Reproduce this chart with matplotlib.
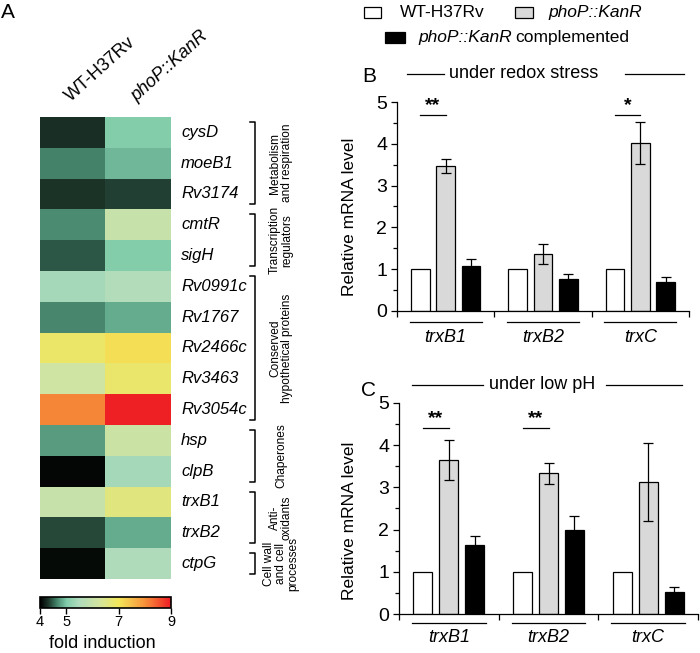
import numpy as np
import matplotlib
matplotlib.use("Agg")
import matplotlib.pyplot as plt
from matplotlib.colors import LinearSegmentedColormap, Normalize
from matplotlib.patches import Rectangle
from matplotlib.ticker import MultipleLocator

plt.rcParams['font.family'] = ['Liberation Sans', 'DejaVu Sans']

# ---- data: heatmap (fold induction) ----
genes = ['cysD', 'moeB1', 'Rv3174', 'cmtR', 'sigH', 'Rv0991c', 'Rv1767',
         'Rv2466c', 'Rv3463', 'Rv3054c', 'hsp', 'clpB', 'trxB1', 'trxB2', 'ctpG']
wt_fold = [4.28, 4.65, 4.30, 4.70, 4.45, 5.40, 4.68, 6.85, 6.20, 8.10,
           4.78, 4.04, 6.00, 4.40, 4.07]
phop_fold = [5.05, 4.90, 4.36, 6.00, 5.05, 5.55, 4.85, 7.10, 6.80, 8.95,
             6.10, 5.40, 6.60, 4.85, 5.50]
strains_hm = ['WT-H37Rv', 'phoP::KanR']
groups = [('Metabolism\nand respiration', 0, 2),
          ('Transcription\nregulators', 3, 4),
          ('Conserved\nhypothetical proteins', 5, 9),
          ('Chaperones', 10, 11),
          ('Anti-\noxidants', 12, 13),
          ('Cell wall\nand cell\nprocesses', 14, 14)]
cbar_ticks = [4, 5, 7, 9]

# ---- data: qRT-PCR bars ----
bar_genes = ['trxB1', 'trxB2', 'trxC']
redox_wt = [1.0, 1.0, 1.0]
redox_phop = [3.48, 1.36, 4.02]
redox_phop_err = [0.17, 0.24, 0.50]
redox_comp = [1.07, 0.75, 0.70]
redox_comp_err = [0.16, 0.13, 0.12]
redox_sig = [(0, '**'), (2, '*')]

lowph_wt = [1.0, 1.0, 1.0]
lowph_phop = [3.65, 3.33, 3.13]
lowph_phop_err = [0.47, 0.25, 0.92]
lowph_comp = [1.64, 2.00, 0.53]
lowph_comp_err = [0.20, 0.32, 0.11]
lowph_sig = [(0, '**'), (1, '**')]

W, H = 700, 653
fig = plt.figure(figsize=(7, 6.53), dpi=100)


def fx(x):
    return x / W


def fy(y):
    return 1 - y / H


def rect(x0, y0, x1, y1):
    return [fx(x0), fy(y1), fx(x1 - x0), (y1 - y0) / H]


# ================= Panel A =================
cmap = LinearSegmentedColormap.from_list('fold', [
    (0.0, '#000000'), (0.06, '#1c3328'), (0.12, '#3d7a62'),
    (0.2, '#80ccaa'), (0.3, '#b0dcbc'), (0.45, '#d2e4a0'),
    (0.6, '#f3e75a'), (0.8, '#f7923a'), (1.0, '#ee1c24')])
norm = Normalize(4, 9)

axh = fig.add_axes(rect(40, 117, 171, 579))
vals = np.column_stack([wt_fold, phop_fold])
im = axh.imshow(vals, cmap=cmap, norm=norm, aspect='auto')
axh.set_axis_off()


def hx(px):
    return -0.5 + (px - 40) / 65.5


for i, g in enumerate(genes):
    axh.text(hx(181), i, g, style='italic', fontsize=12, ha='left', va='center')

for j, s in enumerate(strains_hm):
    axh.text(j - 0.03, -0.98, s, rotation=42, rotation_mode='anchor',
             ha='left', va='baseline', fontsize=13,
             style='italic' if j == 1 else 'normal')

for label, r0, r1 in groups:
    top = r0 - 0.5 + 0.16
    bot = r1 + 0.5 - 0.16
    axh.plot([hx(250), hx(255), hx(255), hx(250)], [top, top, bot, bot],
             color='black', lw=1.1, clip_on=False)
    axh.text(hx(281), (r0 + r1) / 2, label, rotation=90, ha='center',
             va='center', fontsize=8.6, linespacing=1.0, multialignment='center')

axh.set_xlim(-0.5, 1.5)
axh.set_ylim(len(genes) - 0.5, -0.5)

cax = fig.add_axes(rect(40, 597, 171, 608))
cb = fig.colorbar(im, cax=cax, orientation='horizontal')
cb.set_ticks(cbar_ticks)
cb.ax.tick_params(labelsize=10.5, length=4, width=1, pad=1)
cb.outline.set_linewidth(1.2)
fig.text(fx(102), fy(644), 'fold induction', fontsize=13, ha='center', va='center')

fig.text(fx(8), fy(13), 'A', fontsize=15, ha='center', va='center')


# ================= Panels B / C =================
def bar_panel(ax, wt, phop, phop_err, comp, comp_err, sig, sig_y,
              title, title_x, title_lines, y_title, under_y, label_y):
    x = np.arange(len(bar_genes)) + 0.5
    off, bw = 0.26, 0.19
    ax.bar(x - off, wt, bw, color='white', edgecolor='black', lw=0.9)
    ax.bar(x, phop, bw, color='#d9d9d9', edgecolor='black', lw=0.9,
           yerr=phop_err, error_kw=dict(ecolor='black', elinewidth=0.9,
                                        capsize=3.5, capthick=0.9))
    ax.bar(x + off, comp, bw, color='black', edgecolor='black', lw=0.9,
           yerr=comp_err, error_kw=dict(ecolor='black', elinewidth=0.9,
                                        capsize=3.5, capthick=0.9))
    ax.set_xlim(0, 3)
    ax.set_ylim(0, 5)
    for sp in ['top', 'right']:
        ax.spines[sp].set_visible(False)
    for sp in ['left', 'bottom']:
        ax.spines[sp].set_linewidth(0.9)
    ax.set_xticks([0, 1, 2, 3])
    ax.set_xticklabels([])
    ax.tick_params(axis='x', direction='out', length=4, width=0.9)
    ax.yaxis.set_major_locator(MultipleLocator(1))
    ax.yaxis.set_minor_locator(MultipleLocator(0.5))
    ax.tick_params(axis='y', which='major', direction='out', length=4,
                   width=0.9, labelsize=14, pad=3)
    ax.tick_params(axis='y', which='minor', direction='out', length=3, width=0.9)
    ax.set_ylabel('Relative mRNA level', fontsize=12.5)

    for i, g in enumerate(bar_genes):
        ax.plot([i + 0.13, i + 0.87], [under_y, under_y], color='black',
                lw=0.9, clip_on=False)
        ax.text(i + 0.5, label_y, g, style='italic', fontsize=13,
                ha='center', va='center')

    for i, s in sig:
        ax.plot([x[i] - off, x[i]], [sig_y, sig_y], color='black', lw=0.9)
        ax.text(x[i] - off / 2, sig_y + 0.02, s, fontsize=14, ha='center',
                va='bottom', fontweight='bold')

    ax.text(title_x, y_title, title, fontsize=13, ha='center', va='center')
    for a, b in title_lines:
        ax.plot([a, b], [y_title, y_title], color='black', lw=0.9, clip_on=False)


axb = fig.add_axes(rect(397, 102.3, 689, 310.7))
bar_panel(axb, redox_wt, redox_phop, redox_phop_err, redox_comp, redox_comp_err,
          redox_sig, 4.69, 'under redox stress', 1.30,
          [(0.10, 0.48), (2.34, 2.95)], 5.68, -0.27, -0.64)
axb.yaxis.set_label_coords(-40 / 292, 0.45)

axc = fig.add_axes(rect(399, 402.7, 698, 614.3))
bar_panel(axc, lowph_wt, lowph_phop, lowph_phop_err, lowph_comp, lowph_comp_err,
          lowph_sig, 4.41, 'under low pH', 1.44,
          [(0.13, 0.84), (2.08, 2.84)], 5.42, -0.21, -0.56)
axc.yaxis.set_label_coords(-42 / 299, 0.44)

fig.text(fx(369), fy(76), 'B', fontsize=15, ha='center', va='center')
fig.text(fx(369), fy(391), 'C', fontsize=15, ha='center', va='center')

# ---- legend ----
legend_boxes = [((364, 7, 381, 18), 'white'),
                ((515, 7, 533, 18), '#d9d9d9'),
                ((385, 32, 405, 43), 'black')]
for (x0, y0, x1, y1), c in legend_boxes:
    fig.add_artist(Rectangle((fx(x0), fy(y1)), fx(x1 - x0), (y1 - y0) / H,
                             transform=fig.transFigure, facecolor=c,
                             edgecolor='black', lw=0.9))
fig.text(fx(400), fy(12.5), 'WT-H37Rv', fontsize=12.5, va='center')
fig.text(fx(548), fy(12.5), 'phoP::KanR', fontsize=12.5, va='center', style='italic')
t_it = fig.text(fx(418), fy(37.5), 'phoP::KanR', fontsize=12.5, va='center',
                style='italic')
fig.canvas.draw()
bb = t_it.get_window_extent()
fig.text(fx(bb.x1 + 4), fy(37.5), 'complemented', fontsize=12.5, va='center')

fig.savefig('out.png', dpi=100)
